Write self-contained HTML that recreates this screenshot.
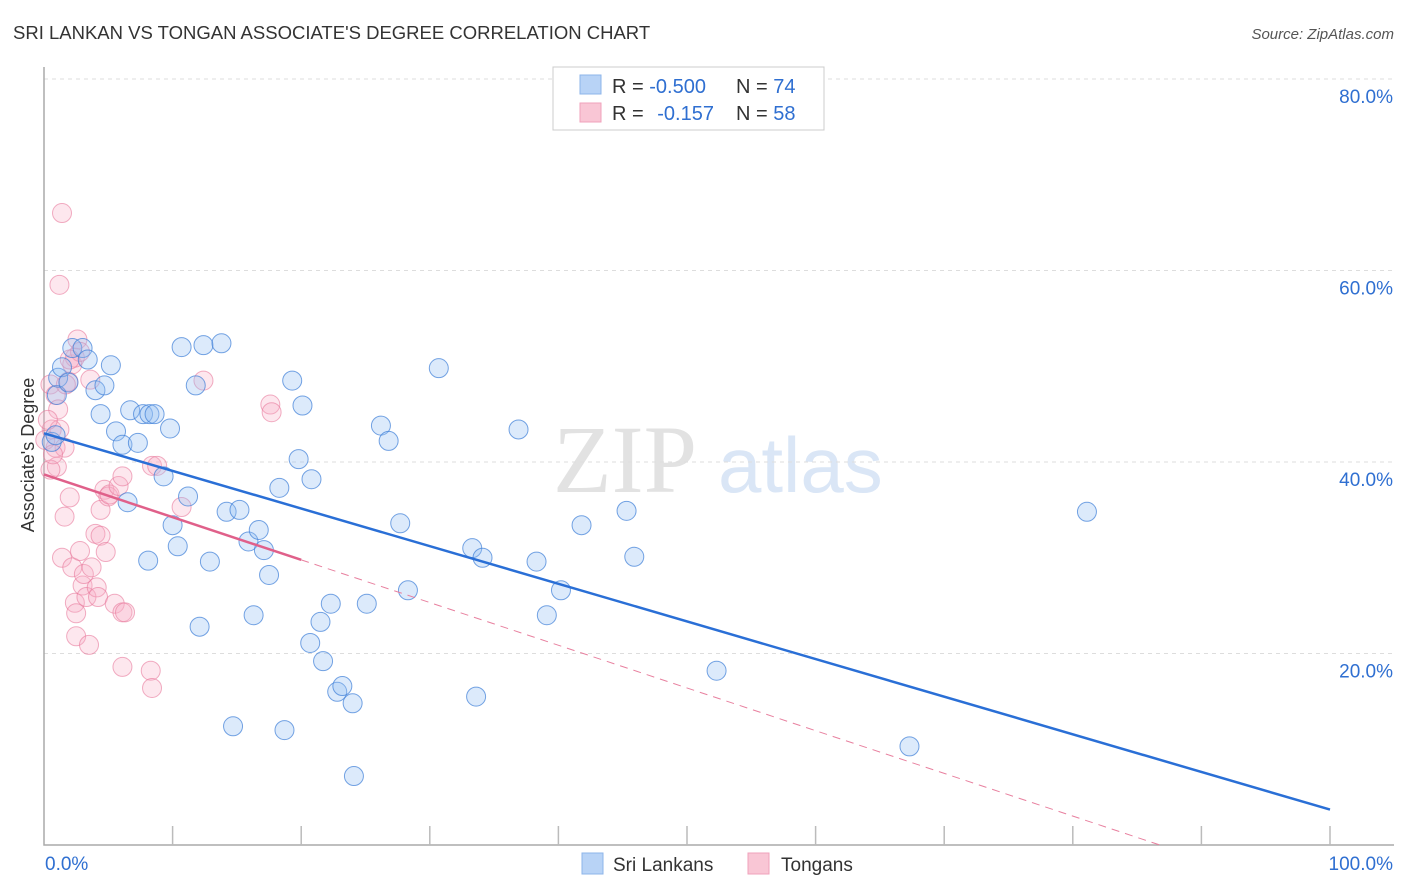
<!DOCTYPE html>
<html><head><meta charset="utf-8"><style>
body{margin:0;background:#fff;font-family:"Liberation Sans",sans-serif;}
svg{display:block}
</style></head><body>
<svg id="chart" width="1406" height="892" xmlns="http://www.w3.org/2000/svg">
<text x="13" y="39" font-size="18.5" fill="#333">SRI LANKAN VS TONGAN ASSOCIATE'S DEGREE CORRELATION CHART</text>
<text x="1394" y="39" font-size="15" fill="#555" font-style="italic" text-anchor="end">Source: ZipAtlas.com</text>
<g>
<text x="553" y="492" font-family="Liberation Serif,serif" font-size="96" fill="#e2e2e2">ZIP</text>
<text x="718" y="492" font-size="78" fill="#dae6f6">atlas</text>
</g>
<g id="grid"></g>
<g id="axes"></g>
<text transform="translate(34,455) rotate(-90)" font-size="18" fill="#333" text-anchor="middle">Associate's Degree</text>
<g id="marks"></g>
<g id="lines"></g>
<g>
<rect x="553" y="67" width="271" height="63" fill="#fff" stroke="#ccc"/>
<rect x="580" y="75" width="21" height="19" fill="#b8d3f6" stroke="#8db4ea"/>
<rect x="580" y="103" width="21" height="19" fill="#f9c6d5" stroke="#f0a2bb"/>
<text x="612" y="93" font-size="20" fill="#333">R = <tspan fill="#2f6fd1">-0.500</tspan></text>
<text x="736" y="93" font-size="20" fill="#333">N = <tspan fill="#2f6fd1">74</tspan></text>
<text x="612" y="120" font-size="20" fill="#333">R = <tspan fill="#2f6fd1" dx="8">-0.157</tspan></text>
<text x="736" y="120" font-size="20" fill="#333">N = <tspan fill="#2f6fd1">58</tspan></text>
</g>
<g>
<rect x="582" y="853" width="21" height="21" fill="#b8d3f6" stroke="#8db4ea"/>
<text x="613" y="871" font-size="19" fill="#333">Sri Lankans</text>
<rect x="748" y="853" width="21" height="21" fill="#f9c6d5" stroke="#f0a2bb"/>
<text x="781" y="871" font-size="19" fill="#333">Tongans</text>
</g>
</svg>
<script>
const blueX=[0.6,0.9,1.0,1.1,1.4,1.9,2.2,3.0,3.4,4.0,4.4,4.7,5.2,5.6,6.1,6.5,6.7,7.3,7.7,8.2,8.6,8.1,9.3,9.8,10.0,10.4,10.7,11.2,11.8,12.1,12.4,12.9,13.8,14.2,14.7,15.2,15.9,16.3,16.7,17.1,17.5,18.3,18.7,19.3,19.8,20.1,20.7,20.8,21.5,21.7,22.3,22.8,23.2,24.0,24.1,25.1,26.2,26.8,27.7,28.3,30.7,33.3,33.6,34.1,36.9,38.3,39.1,40.2,41.8,45.3,45.9,52.3,67.3,81.1];
const blueY=[42.1,42.8,47.0,48.8,49.9,48.3,51.9,51.9,50.7,47.5,45.0,48.0,50.1,43.2,41.8,35.8,45.4,42.0,45.0,45.0,45.0,29.7,38.5,43.5,33.4,31.2,52.0,36.4,48.0,22.8,52.2,29.6,52.4,34.8,12.4,35.0,31.7,24.0,32.9,30.8,28.2,37.3,12.0,48.5,40.3,45.9,21.1,38.2,23.3,19.2,25.2,16.0,16.6,14.8,7.2,25.2,43.8,42.2,33.6,26.6,49.8,31.0,15.5,30.0,43.4,29.6,24.0,26.6,33.4,34.9,30.1,18.2,10.3,34.8];
const pinkX=[1.4,1.2,2.6,0.5,0.9,1.1,0.6,0.9,1.2,1.6,1.0,1.9,2.2,2.4,2.8,1.4,1.6,2.0,2.2,2.4,2.5,2.5,2.8,3.0,3.1,3.3,3.5,3.7,4.0,4.1,4.2,4.4,4.4,4.7,4.8,5.0,5.1,5.5,5.8,6.1,6.1,6.1,6.3,8.3,8.4,8.4,8.8,10.7,12.4,17.6,17.7,0.1,0.3,0.5,0.7,1.7,2.0,3.6];
const pinkY=[66.0,58.5,52.8,48.1,47.0,45.5,43.4,41.5,43.4,41.5,39.5,48.4,50.2,50.9,51.5,30.0,34.3,36.3,29.0,25.3,24.2,21.8,30.7,27.1,28.3,25.9,20.9,29.0,32.5,26.9,25.9,35.0,32.3,37.1,30.6,36.4,36.6,25.2,37.5,38.5,24.3,18.6,24.3,18.2,16.4,39.6,39.6,35.3,48.5,46.0,45.2,42.3,44.4,39.2,40.8,48.1,50.7,48.6];
const blueLine=[43.0,3.7];   // trend value at x=0 and x=100
const pinkLine=[38.7,-5.9];
const xTicks=[0,10,20,30,40,50,60,70,80,90,100];
const yTicks=[20,40,60,80];
const NS="http://www.w3.org/2000/svg";
const X0=44,X1=1330,Y0=845,YS=(845-79)/80;
const sx=v=>X0+(X1-X0)*v/100, sy=v=>Y0-v*YS;
function mk(t,a,p){const e=document.createElementNS(NS,t);for(const k in a)e.setAttribute(k,a[k]);p.appendChild(e);return e;}
const grid=document.getElementById('grid'),axes=document.getElementById('axes'),marks=document.getElementById('marks'),lines=document.getElementById('lines');
yTicks.forEach(v=>{
 const l=mk('line',{x1:X0,x2:1394,y1:sy(v),y2:sy(v),stroke:'#ddd','stroke-dasharray':'4,4'},grid);
 
 
 const t=mk('text',{x:1393,y:sy(v)+24,'font-size':19,fill:'#2f6fd1','text-anchor':'end'},axes);
 t.textContent=v.toFixed(1)+'%';
 
 
});
const ax=mk('path',{d:`M${X0} 67V${Y0}H1394`,stroke:'#aaa',fill:'none','stroke-width':1.5},axes);


xTicks.forEach(v=>{
 if(v===0)return;
 const l=mk('line',{x1:sx(v),x2:sx(v),y1:826,y2:Y0,stroke:'#bbb','stroke-width':1.5},axes);
 
 
});
[[0,'0.0%','start',45],[100,'100.0%','end',1393]].forEach(d=>{
 const t=mk('text',{x:d[3],y:870,'font-size':19,fill:'#2f6fd1','text-anchor':d[2]},axes);
 t.textContent=d[1];
 
 
});
function pts(xs,ys,fill,stroke,name){
 xs.forEach((x,i)=>{
  const c=mk('circle',{cx:sx(x),cy:sy(ys[i]),r:9.5,fill:fill,stroke:stroke,'stroke-width':1},marks);
  
  
 });
}
pts(pinkX,pinkY,'rgba(248,175,198,0.3)','rgba(232,120,155,0.6)','tongan-point');
pts(blueX,blueY,'rgba(150,190,242,0.33)','rgba(60,125,215,0.7)','sri-lankan-point');
const bl=mk('line',{x1:sx(0),y1:sy(blueLine[0]),x2:sx(100),y2:sy(blueLine[1]),stroke:'#2a6fd6','stroke-width':2.5},lines);


const pAt=x=>pinkLine[0]+(pinkLine[1]-pinkLine[0])*x/100;
const pl=mk('line',{x1:sx(0),y1:sy(pAt(0)),x2:sx(20),y2:sy(pAt(20)),stroke:'#e0608a','stroke-width':2.5},lines);


const xe=Math.min(100,pinkLine[0]/(pinkLine[0]-pinkLine[1])*100);
const pd=mk('line',{x1:sx(20),y1:sy(pAt(20)),x2:sx(xe),y2:sy(pAt(xe)),stroke:'#e8809f','stroke-width':1,'stroke-dasharray':'8,6'},lines);


</script>
</body></html>
